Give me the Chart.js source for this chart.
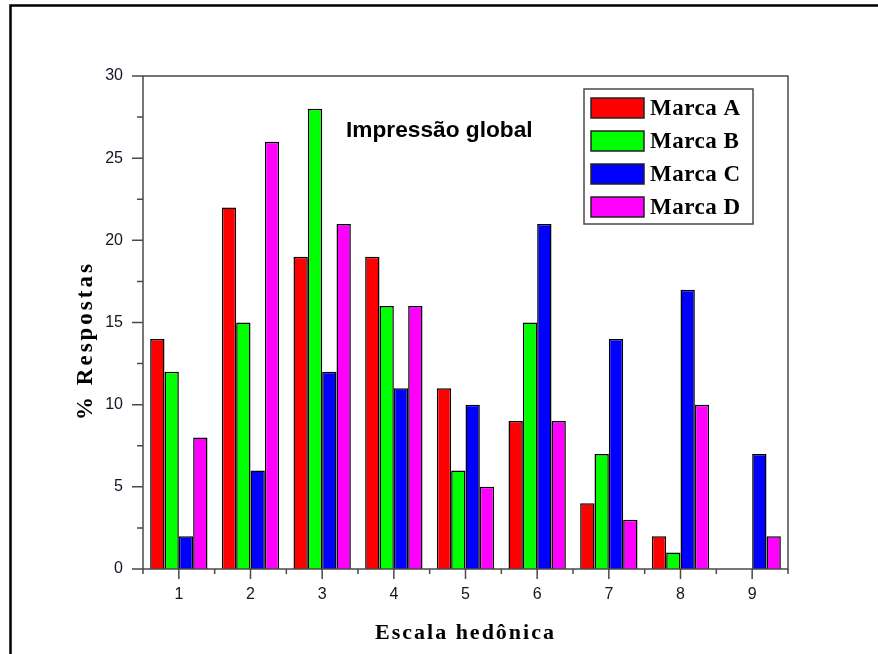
<!DOCTYPE html>
<html>
<head>
<meta charset="utf-8">
<script src="https://cdn.jsdelivr.net/npm/chart.js@4"></script>
<style>
  html, body { margin: 0; padding: 0; background: #fff; }
  #wrap { width: 878px; height: 654px; }
</style>
</head>
<body>
<div id="wrap"><canvas id="chart" width="878" height="654"></canvas></div>
<script>
const categories = ['1', '2', '3', '4', '5', '6', '7', '8', '9'];
const marcaA = [14, 22, 19, 19, 11, 9, 4, 2, 0];
const marcaB = [12, 15, 28, 16, 6, 15, 7, 1, 0];
const marcaC = [2, 6, 12, 11, 10, 21, 14, 17, 7];
const marcaD = [8, 26, 21, 16, 5, 9, 3, 10, 2];
const seriesNames = ['Marca A', 'Marca B', 'Marca C', 'Marca D'];
const seriesColors = ['#ff0000', '#00ff00', '#0000ff', '#ff00ff'];
const yMax = 30;
const yStep = 5;

const axisColor = '#4a4a4a';
const textColor = '#151525';

const datasets = [marcaA, marcaB, marcaC, marcaD].map((values, i) => ({
  label: seriesNames[i],
  data: values,
  backgroundColor: seriesColors[i],
  borderColor: '#000',
  borderWidth: 1.5,
  borderSkipped: 'bottom',
  categoryPercentage: 0.8,
  barPercentage: 1.0
}));

// frame, plot box, ticks, titles, annotation and legend
const decor = {
  id: 'decor',
  afterDraw(chart) {
    const c = chart.ctx;
    const a = chart.chartArea;
    const xs = chart.scales.x;
    const ys = chart.scales.y;
    c.save();

    // outer frame (only top and left visible)
    c.strokeStyle = '#000';
    c.lineWidth = 2.5;
    c.beginPath();
    c.moveTo(10.5, 654);
    c.lineTo(10.5, 5.5);
    c.lineTo(878, 5.5);
    c.stroke();

    // plot box
    c.strokeStyle = axisColor;
    c.lineWidth = 1.5;
    c.strokeRect(a.left, a.top, a.right - a.left, a.bottom - a.top);

    // y ticks
    c.beginPath();
    for (let v = 0; v <= yMax; v += yStep / 2) {
      const y = ys.getPixelForValue(v);
      const len = (v % yStep === 0) ? 11 : 6;
      c.moveTo(a.left - len, y);
      c.lineTo(a.left, y);
    }
    // x ticks
    for (let i = 0; i < categories.length; i++) {
      const x = xs.getPixelForValue(i);
      c.moveTo(x, a.bottom);
      c.lineTo(x, a.bottom + 10);
    }
    for (let i = 0; i <= categories.length; i++) {
      const x = (i === 0) ? a.left : (i === categories.length ? a.right : (xs.getPixelForValue(i - 1) + xs.getPixelForValue(i)) / 2);
      c.moveTo(x, a.bottom);
      c.lineTo(x, a.bottom + 5);
    }
    c.stroke();

    // axis titles
    c.fillStyle = '#000';
    c.font = 'bold 22px "Liberation Serif", "Times New Roman", serif';
    c.letterSpacing = '2px';
    c.textAlign = 'center';
    c.textBaseline = 'alphabetic';
    c.fillText('Escala hedônica', (a.left + a.right) / 2, 639);
    c.save();
    c.translate(92, (a.top + a.bottom) / 2 + 18);
    c.rotate(-Math.PI / 2);
    c.font = 'bold 23px "Liberation Serif", "Times New Roman", serif';
    c.letterSpacing = '3px';
    c.fillText('% Respostas', 0, 0);
    c.restore();
    c.letterSpacing = '0px';

    // annotation
    c.font = 'bold 22.7px "Liberation Sans", Arial, sans-serif';
    c.textAlign = 'left';
    c.fillText('Impressão global', 346, 137);

    // legend
    const lx = 584, ly = 89, lw = 169, lh = 135;
    c.fillStyle = '#fff';
    c.fillRect(lx, ly, lw, lh);
    c.strokeStyle = axisColor;
    c.lineWidth = 1.5;
    c.strokeRect(lx, ly, lw, lh);
    c.font = 'bold 23px "Liberation Serif", "Times New Roman", serif';
    c.letterSpacing = '0.5px';
    chart.data.datasets.forEach((ds, i) => {
      const cy = 108 + i * 33;
      c.fillStyle = ds.backgroundColor;
      c.fillRect(591, cy - 10, 53, 20);
      c.strokeStyle = '#222';
      c.lineWidth = 1.5;
      c.strokeRect(591, cy - 10, 53, 20);
      c.fillStyle = '#000';
      c.textBaseline = 'middle';
      c.fillText(ds.label, 650, cy + 1);
    });
    c.restore();
  }
};

new Chart(document.getElementById('chart'), {
  type: 'bar',
  data: { labels: categories, datasets },
  options: {
    responsive: false,
    animation: false,
    layout: { padding: { top: 76, right: 90, bottom: 0, left: 0 } },
    plugins: {
      legend: { display: false },
      tooltip: { enabled: false }
    },
    scales: {
      x: {
        grid: { display: false, drawTicks: false },
        border: { display: false },
        ticks: {
          color: textColor,
          padding: 16,
          font: { family: '"Liberation Sans", Arial, sans-serif', size: 16 }
        },
        afterFit(scale) { scale.height = 85; }
      },
      y: {
        min: 0,
        max: yMax,
        grid: { display: false, drawTicks: false },
        border: { display: false },
        ticks: {
          stepSize: yStep,
          color: textColor,
          padding: 20,
          font: { family: '"Liberation Sans", Arial, sans-serif', size: 16 }
        },
        afterFit(scale) { scale.width = 143; }
      }
    }
  },
  plugins: [decor]
});
</script>
</body>
</html>
